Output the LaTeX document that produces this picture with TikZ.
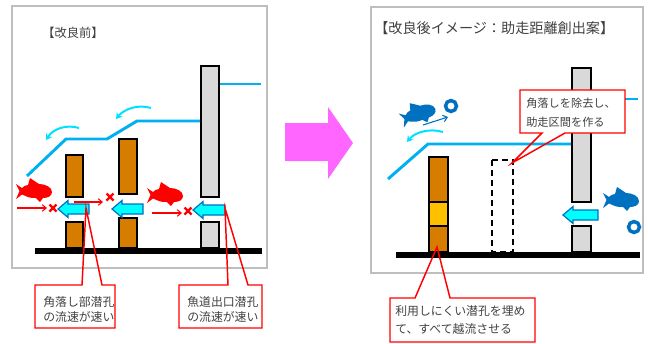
\documentclass[tikz,border=0pt]{standalone}
\usepackage{fontspec}
\newfontfamily\jp{Noto Sans CJK JP}
\usepackage{tikz}
\usetikzlibrary{arrows.meta}
\usepackage{xcolor}
\definecolor{waterblue}{RGB}{0,176,240}
\definecolor{swirlcyan}{RGB}{0,225,255}
\definecolor{jetcyan}{RGB}{0,255,255}
\definecolor{jetedge}{RGB}{0,112,192}
\definecolor{weirorange}{RGB}{214,125,0}
\definecolor{plugyellow}{RGB}{255,192,0}
\definecolor{wallgrey}{RGB}{217,217,217}
\definecolor{fishblue}{RGB}{0,112,192}
\definecolor{notered}{RGB}{255,0,0}
\definecolor{stepmagenta}{RGB}{255,102,255}
\definecolor{textgrey}{RGB}{64,64,64}
\definecolor{framegrey}{RGB}{190,190,190}

\tikzset{
  pillar/.style={draw=black,line width=1.1pt},
  water/.style={waterblue,line width=2.2pt},
  swirl/.style={swirlcyan,line width=1.5pt,-{Stealth[length=4.5pt,width=5.5pt]}},
  jet/.style={fill=jetcyan,draw=jetedge,line width=0.9pt},
  swim/.style={notered,line width=0.8pt,-{Straight Barb[length=3pt,width=5pt]}},
  calloutline/.style={draw=notered,line width=1.1pt},
  note/.style={font=\jp\fontsize{8.9}{11.3}\selectfont,text=textgrey,align=left,inner sep=0pt,anchor=west},
  heading/.style={text=textgrey,inner sep=0pt,anchor=west},
}

% fish silhouette, tail on the left: x, y, angle, colour
\newcommand{\fishat}[4]{%
  \fill[#4,shift={(#1,#2)},rotate=#3]
    (-18,-7) -- (-12,-3) .. controls (-9,-5.5) .. (-6,-6) -- (-4,-13) -- (5,-7)
    .. controls (11,-7) and (18,-4) .. (18,1) .. controls (18,5) and (14,7) .. (9,7)
    -- (6,11) -- (2,7) .. controls (-4,7) .. (-12,3.5) -- (-18,8) -- (-14.5,0) -- cycle;}
% jet through an orifice, tip on the left: x, y, length
\newcommand{\jetat}[3]{%
  \filldraw[jet] (#1,#2) -- (#1+10,#2-8.5) -- (#1+10,#2-5) -- (#1+#3,#2-5)
    -- (#1+#3,#2+5) -- (#1+10,#2+5) -- (#1+10,#2+8.5) -- cycle;}
% red cross where the fish cannot pass
\newcommand{\blockedat}[2]{%
  \draw[notered,line width=1.8pt] (#1-3.5,#2-3.5) -- (#1+3.5,#2+3.5)
    (#1-3.5,#2+3.5) -- (#1+3.5,#2-3.5);}

\begin{document}
\begin{tikzpicture}[x=0.75pt,y=-0.75pt]
  \useasboundingbox (0,0) rectangle (648,343);

  % ---- before ----
  \draw[framegrey,line width=0.8pt] (12,6) rectangle (267,268);
  \node[heading,font=\jp\fontsize{9.2}{10}\selectfont] (beforetitle) at (42,33) {【改良前】};
  \draw[water] (27,176) -- (66,139) -- (107,139) -- (137,121) -- (201,121);
  \draw[water] (219,84) -- (261,84);
  \draw[swirl] (79,128) .. controls (66,124) and (53,129) .. (46,140);
  \draw[swirl] (151,108) .. controls (138,104) and (124,109) .. (116,119);
  \fill[black] (35,248) rectangle (262,254);
  \filldraw[pillar,fill=weirorange] (66,155) rectangle (83,197) (66,222) rectangle (83,248);
  \filldraw[pillar,fill=weirorange] (119,139) rectangle (137,194) (119,218) rectangle (137,248);
  \filldraw[pillar,fill=wallgrey] (201,66) rectangle (219,197) (201,222) rectangle (219,248);
  \jetat{58}{209}{31}
  \jetat{112}{209}{31}
  \jetat{193}{210}{32}
  \fishat{34}{191}{0}{notered}
  \fishat{165}{195}{0}{notered}
  \draw[swim] (17,208) -- (47,208);
  \draw[swim] (74,202) -- (103,202);
  \draw[swim] (152,213) -- (182,213);
  \blockedat{53}{208}
  \blockedat{110}{197}
  \blockedat{188}{211}
  \draw[calloutline] (35,285) -- (82,285) -- (86,208) -- (102,285) -- (115,285)
    -- (115,328) -- (35,328) -- cycle;
  \node[note] (cornernote) at (43,309.5) {角落し部潜孔\\の流速が速い};
  \draw[calloutline] (179,285) -- (228,285) -- (225,208) -- (248,285) -- (262,285)
    -- (262,328) -- (179,328) -- cycle;
  \node[note] (exitnote) at (187,309.5) {魚道出口潜孔\\の流速が速い};

  \fill[stepmagenta] (285,123) -- (328,123) -- (328,107) -- (353,143) -- (328,179)
    -- (328,161) -- (285,161) -- cycle;

  % ---- after ----
  \draw[framegrey,line width=0.8pt] (371,7) rectangle (643,273);
  \node[heading,font=\jp\fontsize{10.6}{12}\selectfont] (aftertitle) at (374,28) {【改良後イメージ：助走距離創出案】};
  \draw[water] (388,179) -- (428,144) -- (572,144);
  \draw[water] (591,99) -- (638,99);
  \draw[swirl] (443,132) .. controls (430,128) and (415,132) .. (407,142);
  \fill[black] (396,252) rectangle (640,258);
  \filldraw[pillar,fill=weirorange] (429,157) rectangle (448,202);
  \filldraw[pillar,fill=plugyellow] (429,202) rectangle (448,226);
  \filldraw[pillar,fill=weirorange] (429,226) rectangle (448,252);
  \draw[black,line width=1.1pt,dash pattern=on 4.5pt off 3pt] (492,160) rectangle (513,252);
  \filldraw[pillar,fill=wallgrey] (572,68) rectangle (591,202) (572,226) rectangle (591,252);
  \jetat{563}{215}{35}
  \fishat{418}{114}{20}{fishblue}
  \draw[fishblue,line width=0.8pt,-{Straight Barb[length=3pt,width=5pt]}] (423,125) -- (448,117);
  \draw[fishblue,line width=2.6pt] (451,106) circle[radius=4.1pt];
  \fishat{621}{200}{0}{fishblue}
  \draw[fishblue,line width=2.6pt] (634,227) circle[radius=4.1pt];
  \fill[white] (520,90) rectangle (625,133);
  \draw[calloutline] (520,90) -- (625,90) -- (625,133) -- (565,133) -- (512,163)
    -- (542,133) -- (520,133) -- cycle;
  \node[note,font=\jp\fontsize{8.4}{14}\selectfont] (runupnote) at (526,112.5) {角落しを除去し、\\助走区間を作る};
  \draw[calloutline] (390,298) -- (415,298) -- (437,247) -- (450,298) -- (535,298)
    -- (535,342) -- (390,342) -- cycle;
  \node[note,font=\jp\fontsize{8.9}{13.5}\selectfont] (fillnote) at (395,320) {利用しにくい潜孔を埋め\\て、すべて越流させる};
\end{tikzpicture}
\end{document}
